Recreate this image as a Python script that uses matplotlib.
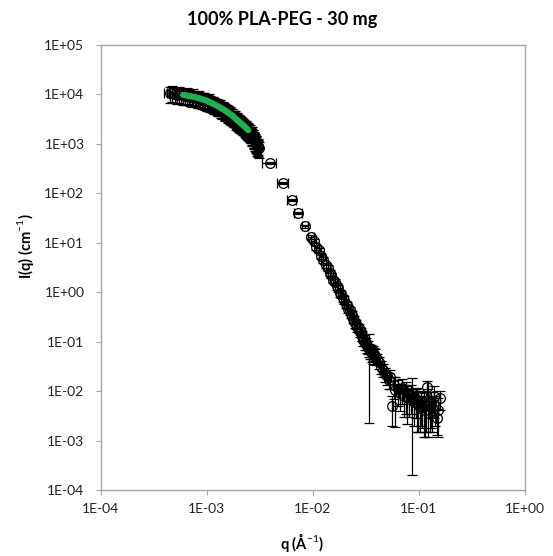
import numpy as np
import matplotlib
matplotlib.use("Agg")
import matplotlib.pyplot as plt
from matplotlib.ticker import LogLocator, NullLocator, FuncFormatter

plt.rcParams['font.family'] = ['Lato', 'DejaVu Sans']
plt.rcParams['mathtext.fontset'] = 'custom'
plt.rcParams['mathtext.rm'] = 'Lato'
plt.rcParams['mathtext.bf'] = 'Lato:bold'

# USAXS part (q in 1e-3 A^-1), two interleaved scans
q_usaxs_milli = [0.45, 0.50, 0.55, 0.60, 0.65, 0.70, 0.75, 0.80, 0.85, 0.90,
                 0.95, 1.00, 1.05, 1.10, 1.15, 1.20, 1.25, 1.30, 1.35, 1.40,
                 1.45, 1.50, 1.55, 1.60, 1.65, 1.70, 1.75, 1.80, 1.85, 1.90,
                 1.95, 2.00, 2.05, 2.10, 2.15, 2.20, 2.25, 2.30, 2.35, 2.40,
                 2.45, 2.50, 2.55, 2.60, 2.65, 2.70, 2.75, 2.80, 2.85, 2.90,
                 2.95, 3.00, 3.05, 3.10]
I_usaxs = [10500, 10100, 10300, 9600, 9900, 9100, 9300, 8400, 8600, 7800,
           8000, 7200, 7400, 6700, 6600, 6100, 6000, 5500, 5600, 5000,
           5000, 4500, 4600, 4100, 4100, 3700, 3750, 3350, 3400, 3000,
           3050, 2700, 2750, 2500, 2500, 2300, 2300, 2100, 2100, 1900,
           1920, 1750, 1760, 1580, 1600, 1420, 1400, 1230, 1200, 1060,
           1000, 900, 880, 820]
dI_usaxs = [3700, 3500, 3600, 3400, 3500, 3200, 3300, 2900, 3000, 2700,
            2800, 2500, 2600, 2300, 2300, 2100, 2100, 1900, 2000, 1750,
            1750, 1600, 1600, 1450, 1450, 1300, 1300, 1150, 1200, 1050,
            1050, 950, 950, 870, 870, 800, 800, 730, 730, 660,
            670, 610, 610, 550, 560, 500, 490, 430, 420, 370,
            350, 320, 300, 290]
q_usaxs2_milli = [0.475, 0.525, 0.575, 0.625, 0.675, 0.725, 0.775, 0.825, 0.875, 0.925,
                  0.975, 1.025, 1.075, 1.125, 1.175, 1.225, 1.275, 1.325, 1.375, 1.425,
                  1.475, 1.525, 1.575, 1.625, 1.675, 1.725, 1.775, 1.825, 1.875, 1.925,
                  1.975, 2.025, 2.075, 2.125, 2.175, 2.225, 2.275, 2.325, 2.375, 2.425,
                  2.475, 2.525, 2.575, 2.625, 2.675, 2.725, 2.775, 2.825, 2.875, 2.925,
                  2.975, 3.025, 3.075]
I_usaxs2 = [10800, 9800, 10000, 9400, 9600, 8800, 8900, 8300, 8100, 7900,
            7500, 7300, 6900, 6700, 6200, 6100, 5700, 5600, 5200, 5100,
            4700, 4600, 4300, 4200, 3850, 3750, 3500, 3400, 3150, 3100,
            2850, 2800, 2600, 2550, 2400, 2350, 2200, 2150, 2000, 1950,
            1830, 1780, 1660, 1600, 1480, 1440, 1300, 1250, 1120, 1080,
            950, 920, 850]
dI_usaxs2 = [3800, 3400, 3500, 3300, 3400, 3100, 3100, 2900, 2800, 2800,
             2600, 2600, 2400, 2300, 2200, 2100, 2000, 2000, 1800, 1800,
             1650, 1600, 1500, 1450, 1350, 1300, 1200, 1200, 1100, 1100,
             1000, 980, 910, 890, 840, 820, 770, 750, 700, 680,
             640, 620, 580, 560, 520, 500, 460, 440, 400, 380,
             330, 320, 300]
dq_usaxs_milli = 0.055

# SAXS part
q_saxs_milli = [3.95, 5.24, 6.37, 7.25, 8.44,
                9.6, 10.2, 10.8, 11.4, 12.0, 12.6, 13.2, 13.8, 14.4, 15.0,
                15.6, 16.2, 16.8, 17.4, 18.0, 18.6, 19.2, 19.8, 20.4, 21.0,
                21.6, 22.2, 22.8, 23.4, 24.0, 24.6, 25.2, 25.8, 26.4, 27.0,
                27.6, 28.2, 28.8, 29.4, 30.0, 30.6, 31.2, 31.8, 32.4, 33.0,
                33.6, 34.2, 34.8, 35.4, 36.0, 36.6, 37.2, 37.8, 38.4,
                40, 42, 44, 46, 48, 50, 52, 54, 56, 58,
                60, 63, 66, 69, 72, 75, 78, 81, 84, 87,
                90, 93, 96, 99, 102, 105, 108, 111, 114, 117,
                120, 123, 126, 130, 134, 138, 142, 147, 152, 158]
I_saxs = [410, 161, 73, 40, 21.7,
          13, 10.8, 8.1, 7.0, 5.3, 4.5, 3.5, 3.1, 2.5, 2.2,
          1.8, 1.62, 1.32, 1.19, 0.97, 0.9, 0.75, 0.7, 0.58, 0.55,
          0.46, 0.43, 0.365, 0.345, 0.29, 0.28, 0.235, 0.228, 0.195, 0.188,
          0.16, 0.155, 0.132, 0.13, 0.11, 0.108, 0.093, 0.092, 0.08, 0.079,
          0.072, 0.07, 0.064, 0.066, 0.058, 0.06, 0.054, 0.057, 0.052,
          0.045, 0.038, 0.031, 0.027, 0.022, 0.020, 0.017, 0.019, 0.005, 0.013,
          0.0105, 0.011, 0.009, 0.0114, 0.008, 0.0095, 0.0075, 0.007, 0.0085, 0.0091,
          0.006, 0.0068, 0.0065, 0.0055, 0.0045, 0.006, 0.0048, 0.0052, 0.0042, 0.0055,
          0.012, 0.0062, 0.0035, 0.0058, 0.0045, 0.0078, 0.005, 0.0028, 0.0042, 0.0071]
dI_saxs = [15, 7, 3.5, 2.2, 1.4,
           1.3, 1.1, 0.9, 0.8, 0.65, 0.55, 0.45, 0.4, 0.34, 0.3,
           0.26, 0.24, 0.2, 0.19, 0.16, 0.15, 0.13, 0.12, 0.1, 0.095,
           0.08, 0.077, 0.066, 0.063, 0.055, 0.053, 0.046, 0.045, 0.04, 0.038,
           0.034, 0.033, 0.03, 0.029, 0.027, 0.026, 0.024, 0.024, 0.022, 0.022,
           0.0697, 0.021, 0.02, 0.021, 0.019, 0.02, 0.018, 0.019, 0.018,
           0.012, 0.01, 0.009, 0.008, 0.007, 0.007, 0.006, 0.008, 0.003, 0.006,
           0.0086, 0.006, 0.005, 0.006, 0.005, 0.006, 0.0053, 0.004, 0.005, 0.0089,
           0.004, 0.004, 0.005, 0.004, 0.003, 0.004, 0.003, 0.004, 0.003, 0.004,
           0.004, 0.005, 0.002, 0.004, 0.003, 0.005, 0.003, 0.0015, 0.003, 0.003]
dq_saxs_milli = 0.6

# Guinier fit
q_fit_milli = [0.60, 0.80, 1.00, 1.25, 1.50, 1.75, 2.00, 2.25, 2.46]
I_fit = [9800, 8700, 7500, 5900, 4700, 3700, 2850, 2300, 1900]

W, H = 553, 556
fig = plt.figure(figsize=(W / 100, H / 100), dpi=100)
ax = fig.add_axes([100.5 / W, 1 - 490 / H, 424.5 / W, 445 / H])

style = dict(fmt='o', mfc='none', mec='black', mew=0.9, ms=7,
             ecolor='black', elinewidth=0.9, capsize=3.5, capthick=0.9)
ax.errorbar(np.array(q_usaxs_milli) * 1e-3, I_usaxs, yerr=dI_usaxs,
            xerr=dq_usaxs_milli * 1e-3, **style)
ax.errorbar(np.array(q_usaxs2_milli) * 1e-3, I_usaxs2, yerr=dI_usaxs2,
            xerr=dq_usaxs_milli * 1e-3, **style)
ax.errorbar(np.array(q_saxs_milli) * 1e-3, I_saxs, yerr=dI_saxs,
            xerr=dq_saxs_milli * 1e-3, **style)
ax.plot(np.array(q_fit_milli) * 1e-3, I_fit, color='#1fb14f', lw=4.5,
        solid_capstyle='round', zorder=5)

ax.set_xscale('log')
ax.set_yscale('log')
ax.set_xlim(1e-4, 1)
ax.set_ylim(1e-4, 1e5)
for axis in (ax.xaxis, ax.yaxis):
    axis.set_major_locator(LogLocator(base=10, numticks=20))
    axis.set_minor_locator(NullLocator())
    axis.set_major_formatter(FuncFormatter(lambda v, p: f"{v:.0E}"))

for s in ax.spines.values():
    s.set_color('#a6a6a6')
    s.set_linewidth(1.0)
ax.tick_params(direction='out', length=3.6, width=0.8, color='#a6a6a6',
               labelsize=10, labelcolor='#222222')
ax.tick_params(axis='y', pad=8)
ax.tick_params(axis='x', pad=6)

fig.text(282 / W, 1 - 20 / H, "100% PLA-PEG - 30 mg", ha='center', va='center',
         fontsize=13, fontweight='bold')
fig.text(25 / W, 1 - 246 / H, r"I(q) (cm$^{-1}$)", ha='center', va='center',
         rotation=90, fontsize=10.5, fontweight='bold')
fig.text(302 / W, 1 - 542 / H, r"q (Å$^{-1}$)", ha='center', va='center',
         fontsize=10.5, fontweight='bold')

fig.savefig("out.png", dpi=100)
